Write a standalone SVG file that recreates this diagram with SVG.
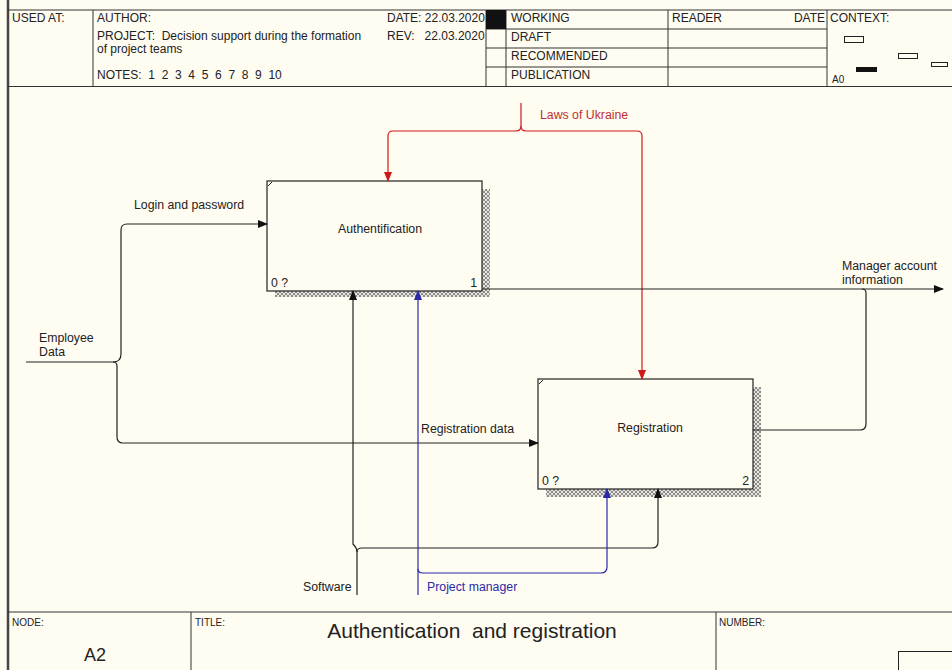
<svg xmlns="http://www.w3.org/2000/svg" width="952" height="670" viewBox="0 0 952 670">
<defs>
<style>
text{font-family:"Liberation Sans",Arial,sans-serif;fill:#222;}
.h{font-size:12px;}
.lbl{font-size:12.3px;}
.small{font-size:10px;}
.frame{stroke:#333;stroke-width:1;fill:none;}
.box{fill:#fffcf2;stroke:#222;stroke-width:1.2;}
.blk{fill:none;stroke:#222;stroke-width:1.2;}
.red{fill:none;stroke:#d01818;stroke-width:1.2;}
.blue{fill:none;stroke:#2a2aa8;stroke-width:1.2;}
</style>
<pattern id="hatch" width="4" height="4" patternUnits="userSpaceOnUse">
<rect width="4" height="4" fill="#e8e6de"/>
<path d="M0,0 L4,4 M4,0 L0,4" stroke="#666" stroke-width="0.7"/>
</pattern>
<marker id="ab" markerWidth="10" markerHeight="8" refX="9" refY="4" orient="auto" markerUnits="userSpaceOnUse"><path d="M0,0 L10,4 L0,8 Z" fill="#111"/></marker>
<marker id="ar" markerWidth="10" markerHeight="8" refX="9" refY="4" orient="auto" markerUnits="userSpaceOnUse"><path d="M0,0 L10,4 L0,8 Z" fill="#d01818"/></marker>
<marker id="au" markerWidth="10" markerHeight="8" refX="9" refY="4" orient="auto" markerUnits="userSpaceOnUse"><path d="M0,0 L10,4 L0,8 Z" fill="#2a2aa8"/></marker>
</defs>
<rect width="952" height="670" fill="#fffcf2"/>

<g id="frame">
<line x1="8" y1="0" x2="8" y2="670" stroke="#444" stroke-width="2.5"/>
<line x1="8" y1="10" x2="952" y2="10" class="frame"/>
<line x1="8" y1="86.5" x2="952" y2="86.5" class="frame" stroke-width="1.5"/>
<line x1="93" y1="10" x2="93" y2="86" class="frame"/>
<line x1="486" y1="10" x2="486" y2="86" class="frame"/>
<line x1="506" y1="10" x2="506" y2="86" class="frame"/>
<line x1="668" y1="10" x2="668" y2="86" class="frame"/>
<line x1="827" y1="10" x2="827" y2="86" class="frame"/>
<line x1="486" y1="29" x2="827" y2="29" class="frame"/>
<line x1="486" y1="48" x2="827" y2="48" class="frame"/>
<line x1="486" y1="67" x2="827" y2="67" class="frame"/>
<rect x="486" y="10" width="20" height="19" fill="#111"/>
<text class="h" x="12" y="22">USED AT:</text>
<text class="h" x="97" y="22">AUTHOR:</text>
<text class="h" x="97" y="40" style="white-space:pre">PROJECT:  Decision support during the formation</text>
<text class="h" x="97" y="53">of project teams</text>
<text class="h" x="97" y="79" style="white-space:pre">NOTES:  1  2  3  4  5  6  7  8  9  10</text>
<text class="h" x="387" y="22">DATE: 22.03.2020</text>
<text class="h" x="387" y="40" style="white-space:pre">REV:   22.03.2020</text>
<text class="h" x="511" y="22">WORKING</text>
<text class="h" x="511" y="41">DRAFT</text>
<text class="h" x="511" y="60">RECOMMENDED</text>
<text class="h" x="511" y="79">PUBLICATION</text>
<text class="h" x="672" y="22">READER</text>
<text class="h" x="825" y="22" text-anchor="end">DATE</text>
<text class="h" x="830" y="22">CONTEXT:</text>
<text class="small" x="832" y="83">A0</text>
<rect x="844.5" y="36.5" width="19" height="6" fill="none" stroke="#222"/>
<rect x="898.5" y="53.5" width="19" height="5" fill="none" stroke="#222"/>
<rect x="931.5" y="62.5" width="16" height="4" fill="none" stroke="#222"/>
<rect x="856" y="67" width="21" height="5" fill="#111"/>
<line x1="8" y1="612" x2="952" y2="612" class="frame" stroke-width="1.5"/>
<line x1="191" y1="612" x2="191" y2="670" class="frame"/>
<line x1="716" y1="612" x2="716" y2="670" class="frame"/>
<rect x="898.5" y="651.5" width="60" height="30" fill="none" stroke="#222"/>
<text class="small" x="12" y="626">NODE:</text>
<text x="84" y="661" style="font-size:18px">A2</text>
<text class="small" x="195" y="626">TITLE:</text>
<text x="472" y="638" text-anchor="middle" style="font-size:21px;white-space:pre">Authentication  and registration</text>
<text class="small" x="719" y="626">NUMBER:</text>
</g>

<g id="node-auth">
<rect x="482" y="189" width="8" height="108" fill="url(#hatch)"/>
<rect x="275" y="291" width="215" height="6" fill="url(#hatch)"/>
<rect x="267" y="181" width="215" height="110" class="box"/>
<line x1="268" y1="186" x2="272" y2="182" stroke="#222"/>
<text class="lbl" x="380" y="233" text-anchor="middle">Authentification</text>
<text class="lbl" x="271" y="287">0 ?</text>
<text class="lbl" x="477" y="287" text-anchor="end">1</text>
</g>

<g id="node-reg">
<rect x="753" y="387" width="8" height="110" fill="url(#hatch)"/>
<rect x="546" y="489" width="215" height="8" fill="url(#hatch)"/>
<rect x="538" y="379" width="215" height="110" class="box"/>
<line x1="539" y1="384" x2="543" y2="380" stroke="#222"/>
<text class="lbl" x="650" y="432" text-anchor="middle">Registration</text>
<text class="lbl" x="542" y="485">0 ?</text>
<text class="lbl" x="749" y="485" text-anchor="end">2</text>
</g>

<g id="connectors">
<path class="red" d="M521,103 V126 Q521,131 516,131 H393 Q388,131 388,136 V181" marker-end="url(#ar)"/>
<path class="red" d="M521,126 Q521,131 526,131 H637 Q642,131 642,136 V379" marker-end="url(#ar)"/>
<path class="blk" d="M26,362 H113 Q121,362 121,354 V230 Q121,224 127,224 H267" marker-end="url(#ab)"/>
<path class="blk" d="M113,362 Q117,362 117,366 V437 Q117,443 123,443 H538" marker-end="url(#ab)"/>
<path class="blk" d="M482,289 H943" marker-end="url(#ab)"/>
<path class="blk" d="M753,430 H860 Q866,430 866,424 V293 Q866,289 862,289"/>
<path class="blk" d="M357,595 V552 Q357,548 353,544 V291" marker-end="url(#ab)"/>
<path class="blk" d="M357,552 Q357,548 362,548 H652 Q658,548 658,542 V489" marker-end="url(#ab)"/>
<path class="blue" d="M418,595 V291" marker-end="url(#au)"/>
<path class="blue" d="M418,569 Q418,573 423,573 H601 Q607,573 607,567 V489" marker-end="url(#au)"/>
<text class="lbl" x="540" y="119" style="fill:#c03030">Laws of Ukraine</text>
<text class="lbl" x="134" y="209">Login and password</text>
<text class="lbl" x="39" y="342">Employee</text>
<text class="lbl" x="39" y="356">Data</text>
<text class="lbl" x="421" y="433">Registration data</text>
<text class="lbl" x="842" y="270">Manager account</text>
<text class="lbl" x="842" y="284">information</text>
<text class="lbl" x="303" y="591">Software</text>
<text class="lbl" x="427" y="591" style="fill:#2a2aa8">Project manager</text>
</g>
</svg>
